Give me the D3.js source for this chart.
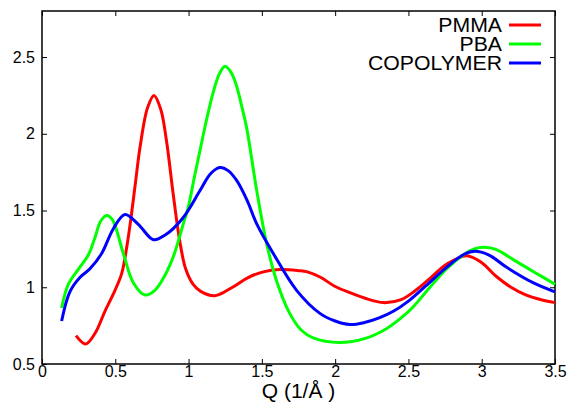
<!DOCTYPE html>
<html>
<head>
<meta charset="utf-8">
<script src="https://cdn.jsdelivr.net/npm/d3@7"></script>
<style>
  html, body { margin: 0; padding: 0; background: #fff; }
  svg { display: block; font-family: "Liberation Sans", Arial, Helvetica, sans-serif; }
</style>
</head>
<body>
<svg id="chart" width="570" height="408"></svg>
<script>
// Structure factor curves S(Q) for the two homopolymers and the copolymer
const seriesNames = ["PMMA", "PBA", "COPOLYMER"];
const seriesColors = ["#ff0000", "#00ff00", "#0000ff"];

const pmmaQ = [0.232, 0.298, 0.362, 0.43, 0.498, 0.544, 0.578, 0.607, 0.64, 0.67, 0.72, 0.764, 0.81, 0.85, 0.896, 0.94, 0.98, 1.03, 1.08, 1.18, 1.30, 1.40, 1.51, 1.62, 1.75, 1.81, 1.90, 2.0, 2.1, 2.2, 2.33, 2.45, 2.55, 2.65, 2.76, 2.897, 3.0, 3.1, 3.2, 3.3, 3.4, 3.5];
const pmmaS = [0.685, 0.63, 0.70, 0.845, 0.98, 1.09, 1.26, 1.45, 1.70, 1.92, 2.17, 2.25, 2.16, 1.95, 1.60, 1.30, 1.12, 1.02, 0.975, 0.945, 1.00, 1.06, 1.10, 1.115, 1.108, 1.10, 1.065, 1.005, 0.965, 0.93, 0.90, 0.92, 0.98, 1.06, 1.15, 1.206, 1.16, 1.07, 1.00, 0.95, 0.92, 0.90];

const pbaQ = [0.134, 0.18, 0.25, 0.316, 0.36, 0.40, 0.441, 0.48, 0.555, 0.623, 0.703, 0.77, 0.84, 0.90, 0.96, 1.0, 1.04, 1.08, 1.12, 1.168, 1.21, 1.248, 1.29, 1.328, 1.36, 1.396, 1.465, 1.533, 1.60, 1.69, 1.77, 1.85, 2.03, 2.2, 2.35, 2.45, 2.53, 2.647, 2.76, 2.874, 2.95, 3.02, 3.1, 3.215, 3.374, 3.5];
const pbaS = [0.865, 1.02, 1.12, 1.21, 1.32, 1.43, 1.467, 1.44, 1.22, 1.03, 0.95, 0.98, 1.08, 1.21, 1.40, 1.53, 1.72, 1.90, 2.08, 2.27, 2.39, 2.44, 2.40, 2.31, 2.19, 2.04, 1.63, 1.283, 1.043, 0.83, 0.72, 0.67, 0.64, 0.665, 0.73, 0.80, 0.87, 1.00, 1.12, 1.21, 1.25, 1.26, 1.245, 1.18, 1.09, 1.02];

const copoQ = [0.134, 0.19, 0.26, 0.327, 0.407, 0.486, 0.566, 0.657, 0.76, 0.84, 0.96, 1.078, 1.15, 1.214, 1.27, 1.328, 1.40, 1.465, 1.578, 1.737, 1.896, 2.0, 2.1, 2.2, 2.3, 2.4, 2.5, 2.62, 2.76, 2.88, 2.954, 3.05, 3.17, 3.35, 3.5];
const copoS = [0.78, 0.97, 1.065, 1.12, 1.22, 1.38, 1.474, 1.41, 1.31, 1.34, 1.45, 1.63, 1.74, 1.78, 1.76, 1.696, 1.565, 1.413, 1.22, 0.98, 0.83, 0.78, 0.757, 0.77, 0.80, 0.845, 0.91, 1.01, 1.13, 1.215, 1.235, 1.21, 1.13, 1.03, 0.97];

const xTicks = [0, 0.5, 1, 1.5, 2, 2.5, 3, 3.5];
const yTicks = [0.5, 1, 1.5, 2, 2.5];
const xTitle = "Q (1/Å )";

const seriesData = [
  d3.zip(pmmaQ, pmmaS),
  d3.zip(pbaQ, pbaS),
  d3.zip(copoQ, copoS)
];

const svg = d3.select("#chart");
const plot = { left: 42, right: 555, top: 11, bottom: 364 };

const x = d3.scaleLinear().domain([0, 3.5]).range([plot.left, plot.right]);
const y = d3.scaleLinear().domain([0.5, 2.8]).range([plot.bottom, plot.top]);

const fmt = d => String(d);

// Axes with inward ticks, mirrored on top and right
const axB = svg.append("g").attr("transform", `translate(0,${plot.bottom})`)
  .call(d3.axisBottom(x).tickValues(xTicks).tickFormat(fmt).tickSize(-5).tickPadding(1.5));
const axT = svg.append("g").attr("transform", `translate(0,${plot.top})`)
  .call(d3.axisTop(x).tickValues(xTicks).tickFormat("").tickSize(-5));
const axL = svg.append("g").attr("transform", `translate(${plot.left},0)`)
  .call(d3.axisLeft(y).tickValues(yTicks).tickFormat(fmt).tickSize(-5).tickPadding(7));
const axR = svg.append("g").attr("transform", `translate(${plot.right},0)`)
  .call(d3.axisRight(y).tickValues(yTicks).tickFormat("").tickSize(-5));

[axB, axT, axL, axR].forEach(g => {
  g.select(".domain").remove();
  g.selectAll(".tick line").attr("stroke", "#000").attr("stroke-width", 1);
  g.selectAll(".tick text")
    .attr("fill", "#000")
    .style("font-size", "16px")
    .style("font-family", "'Liberation Sans', Arial, sans-serif");
});

// Frame
svg.append("rect")
  .attr("x", plot.left).attr("y", plot.top)
  .attr("width", plot.right - plot.left).attr("height", plot.bottom - plot.top)
  .attr("fill", "none").attr("stroke", "#000").attr("stroke-width", 1.5);

// Curves
const line = d3.line()
  .x(d => x(d[0]))
  .y(d => y(d[1]))
  .curve(d3.curveCatmullRom.alpha(0.5));

svg.append("g").selectAll("path")
  .data(seriesData)
  .join("path")
  .attr("d", line)
  .attr("fill", "none")
  .attr("stroke", (d, i) => seriesColors[i])
  .attr("stroke-width", 3)
  .attr("stroke-linejoin", "round")
  .attr("stroke-linecap", "butt");

// Axis title (slightly wide lettering)
svg.append("text")
  .attr("transform", `translate(${(plot.left + plot.right) / 2},398) scale(1.05,1)`)
  .attr("text-anchor", "middle")
  .style("font-size", "20px")
  .attr("fill", "#000")
  .text(xTitle);

// Legend: labels right-aligned next to line samples
const legend = svg.append("g");
seriesNames.forEach((name, i) => {
  const baseY = 32 + i * 19;
  legend.append("text")
    .attr("transform", `translate(502,${baseY}) scale(1.09,1)`)
    .attr("text-anchor", "end")
    .style("font-size", "19.5px")
    .attr("fill", "#000")
    .text(name);
  legend.append("line")
    .attr("x1", 509).attr("x2", 541)
    .attr("y1", baseY - 7).attr("y2", baseY - 7)
    .attr("stroke", seriesColors[i])
    .attr("stroke-width", 3);
});
</script>
</body>
</html>
